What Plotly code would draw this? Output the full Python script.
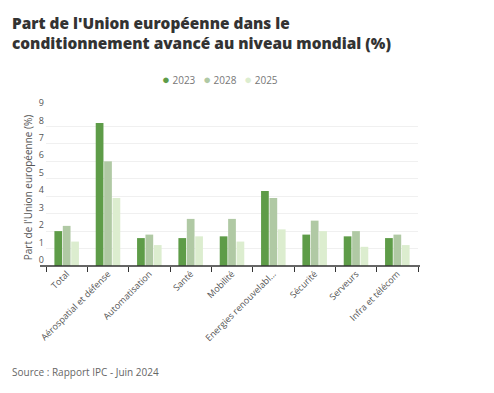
import plotly.graph_objects as go

categories = ["Total", "Aérospatial et défense", "Automatisation", "Santé", "Mobilité",
              "Energies renouvelabl...", "Sécurité", "Serveurs", "Infra et télécom"]
series_names = ["2023", "2028", "2025"]
v2023 = [2.0, 8.2, 1.6, 1.6, 1.7, 4.3, 1.8, 1.7, 1.6]
v2028 = [2.3, 6.0, 1.8, 2.7, 2.7, 3.9, 2.6, 2.0, 1.8]
v2025 = [1.4, 3.9, 1.2, 1.7, 1.4, 2.1, 2.0, 1.1, 1.2]
colors = ["#5e9c48", "#b0c9a4", "#dcedcf"]
yticks = [0, 1, 2, 3, 4, 5, 6, 7, 8, 9]
title_text = "Part de l'Union européenne dans le<br>conditionnement avancé au niveau mondial (%)"

FONT = "Open Sans"
# page body has an 8px margin: work in figure pixel coordinates (window - 8)
W, H = 478, 377
PX0, PX1, PY0, PY1 = 38, 410, 101, 258  # plot area in figure px
PW, PH = PX1 - PX0, PY1 - PY0


def px2x(px):
    return (px - PX0) / PW


def py2y(py):
    return (PY1 - py) / PH


fig = go.Figure()
for name, vals, col in zip(series_names, [v2023, v2028, v2025], colors):
    fig.add_trace(go.Bar(x=categories, y=vals, name=name, marker_color=col,
                         marker_line_width=0, showlegend=False))

legend_text = "&nbsp;&nbsp;&nbsp;".join(
    f"<span style='color:{c};font-size:13px'>●</span> {n}" for n, c in zip(series_names, colors))

annotations = [
    dict(text=title_text, xref="paper", yref="paper", x=px2x(2), xanchor="left",
         y=py2y(3), yanchor="top", showarrow=False, align="left",
         font=dict(family=FONT, size=15.4, color="#333333", weight=800)),
    dict(text=legend_text, xref="paper", yref="paper", x=px2x(212), xanchor="center",
         y=py2y(71), yanchor="middle", showarrow=False,
         font=dict(size=10, color="#777777")),
    dict(text="Source : Rapport IPC - Juin 2024", xref="paper", yref="paper",
         x=px2x(2), xanchor="left", y=py2y(364), yanchor="middle", showarrow=False,
         font=dict(size=10, color="#666666")),
]

fig.update_layout(
    width=W, height=H,
    margin=dict(l=PX0, r=W - PX1, t=PY0, b=H - PY1, autoexpand=False),
    paper_bgcolor="white", plot_bgcolor="white",
    barmode="group", bargap=0.39, bargroupgap=0.08,
    font=dict(family=FONT, color="#555555", size=10),
    showlegend=False,
    xaxis=dict(type="category", range=[-0.5, 8.5], tickangle=-45, tickson="boundaries",
               ticks="outside", ticklen=5, tickcolor="#333333", showline=False,
               showgrid=False, tickfont=dict(size=9, color="#555555")),
    yaxis=dict(range=[0, 9], tickvals=yticks, showgrid=True, gridcolor="#f0f0f0",
               zeroline=False, showline=False, ticks="", ticklabelshift=-6,
               ticklabelstandoff=1,
               tickfont=dict(size=9, color="#555555"),
               title=dict(text="Part de l'Union européenne (%)", standoff=4,
                          font=dict(size=10, color="#555555"))),
    shapes=[dict(type="line", xref="paper", yref="paper", x0=px2x(PX0 - 6), x1=px2x(PX1 + 2),
                 y0=0, y1=0, line=dict(color="#333333", width=1.5))],
    annotations=annotations,
)
fig.write_html("out.html")
